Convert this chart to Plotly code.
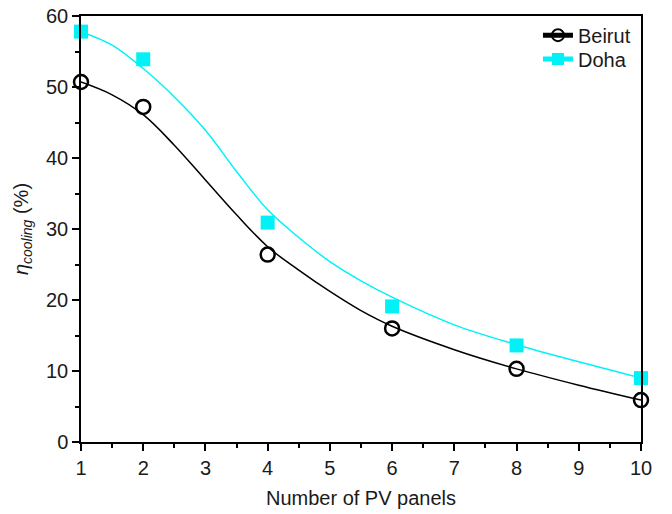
import plotly.graph_objects as go

# measured data points
panels = [1, 2, 4, 6, 8, 10]
beirut = [50.7, 47.2, 26.4, 16.0, 10.3, 5.9]
doha = [57.8, 53.9, 30.9, 19.1, 13.6, 9.0]

# fitted curves
fit_x = [1, 1.5, 2, 2.5, 3, 3.5, 4, 4.5, 5, 5.5, 6, 7, 8, 9, 10]
beirut_fit = [50.7, 48.9, 46.1, 41.8, 36.9, 32.0, 27.5, 24.2, 21.2, 18.5, 16.3, 13.0, 10.3, 8.0, 5.9]
doha_fit = [57.8, 55.9, 52.6, 48.6, 43.9, 38.1, 32.7, 28.8, 25.4, 22.7, 20.4, 16.5, 13.7, 11.3, 9.0]

BLACK = "#000000"
CYAN = "#00f2f6"
FONT = "Liberation Sans, Arial"
TXT = "#1a1a1a"

fig = go.Figure()
fig.add_trace(go.Scatter(x=fit_x, y=beirut_fit, mode="lines", line=dict(color=BLACK, width=1.5, shape="spline"),
                         showlegend=False, hoverinfo="skip"))
fig.add_trace(go.Scatter(x=fit_x, y=doha_fit, mode="lines", line=dict(color=CYAN, width=1.5, shape="spline"),
                         showlegend=False, hoverinfo="skip"))
fig.add_trace(go.Scatter(x=panels, y=beirut, mode="markers", showlegend=False, cliponaxis=False,
                         marker=dict(symbol="circle-open", size=14, color=BLACK, line=dict(width=2.5, color=BLACK))))
fig.add_trace(go.Scatter(x=panels, y=doha, mode="markers", showlegend=False, cliponaxis=False,
                         marker=dict(symbol="square", size=14, color=CYAN)))
# legend entries
fig.add_trace(go.Scatter(x=[None], y=[None], mode="lines+markers", name="Beirut", legend="legend",
                         line=dict(color=BLACK, width=1.5),
                         marker=dict(symbol="circle-open", size=11, color=BLACK, line=dict(width=2.5, color=BLACK))))
fig.add_trace(go.Scatter(x=[None], y=[None], mode="lines+markers", name="Doha", legend="legend2",
                         line=dict(color=CYAN, width=1.5),
                         marker=dict(symbol="square", size=11, color=CYAN)))

axis_common = dict(showline=True, linecolor=BLACK, linewidth=1.5, mirror=True, ticks="outside",
                   ticklen=7, tickwidth=1.5, tickcolor=BLACK, showgrid=False, zeroline=False,
                   automargin=False,
                   tickfont=dict(family=FONT, size=20, color=TXT))

fig.update_xaxes(range=[1, 10], dtick=1, tick0=1,
                 minor=dict(ticks="outside", ticklen=4, dtick=0.5, tick0=1, tickcolor=BLACK, tickwidth=1.5),
                 title=dict(text="Number of PV panels", font=dict(family=FONT, size=20, color=TXT),
                            standoff=13),
                 **axis_common)
fig.update_yaxes(range=[0, 60], dtick=10,
                 minor=dict(ticks="outside", ticklen=4, dtick=5, tickcolor=BLACK, tickwidth=1.5),
                 title=dict(text="<i>η</i><sub><i>cooling</i></sub> (%)",
                            font=dict(family=FONT, size=20, color=TXT), standoff=12),
                 **axis_common)

leg_common = dict(xanchor="left", yanchor="middle", bgcolor="rgba(0,0,0,0)",
                  font=dict(family=FONT, size=20, color=TXT), itemsizing="constant")

fig.update_layout(width=672, height=514, margin=dict(l=81, r=31, t=16, b=72),
                  plot_bgcolor="white", paper_bgcolor="white",
                  legend=dict(x=0.816, y=0.955, **leg_common),
                  legend2=dict(x=0.816, y=0.899, **leg_common))

# remove the default 8px page margin so the 672x514 figure fills the window exactly
fig.write_html("out.html", config={"displayModeBar": False},
               post_script="document.body.style.margin='0';document.body.style.overflow='hidden';")
